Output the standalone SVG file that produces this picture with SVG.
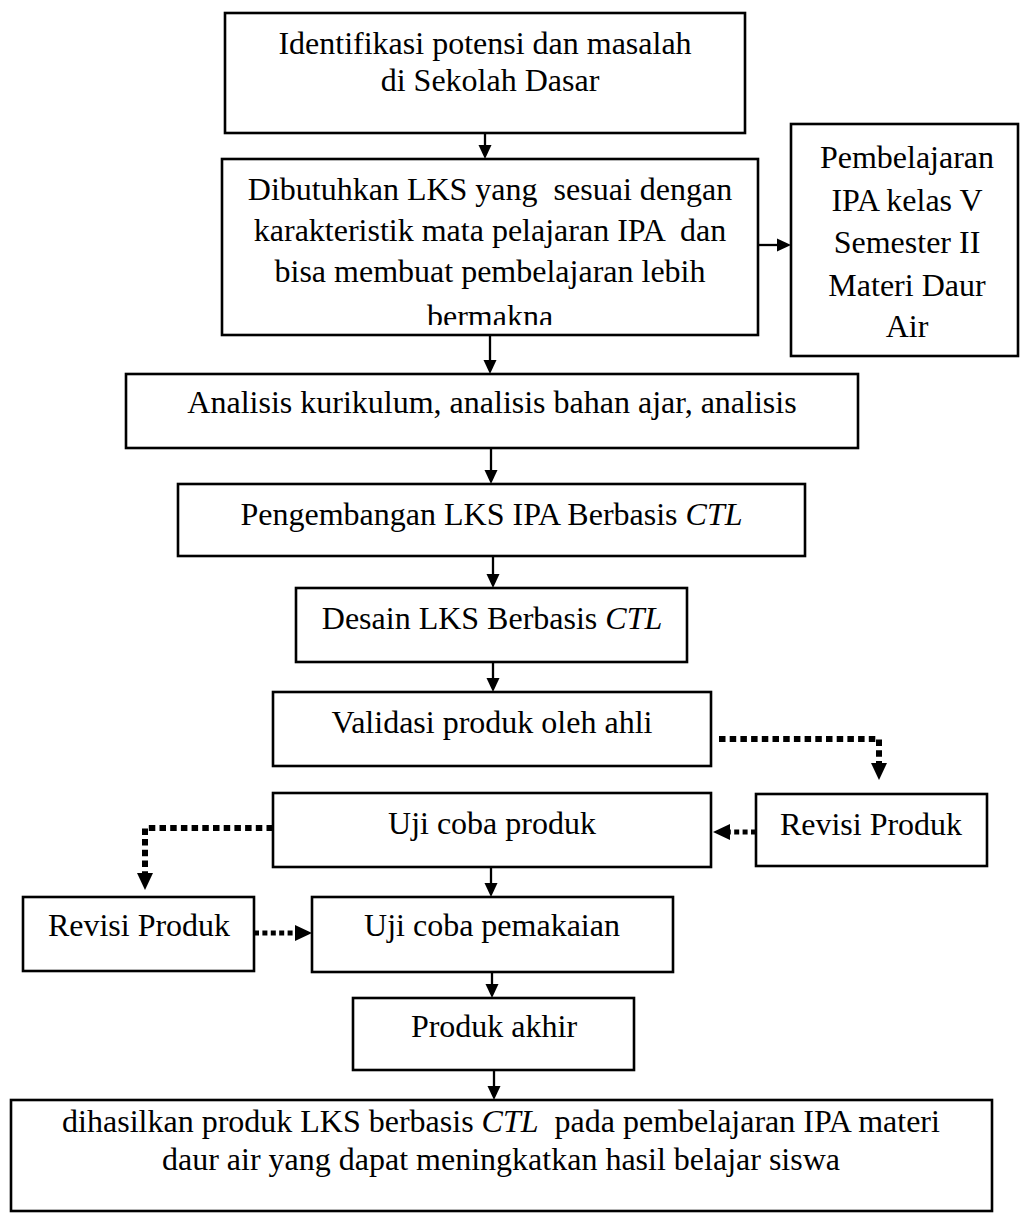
<svg xmlns="http://www.w3.org/2000/svg" width="1020" height="1214" viewBox="0 0 1020 1214">
  <style>
    .box { fill: #ffffff; stroke: #000000; stroke-width: 2.6; }
    .lbl { font-family: "Liberation Serif", "Times New Roman", serif; font-size: 32px; fill: #000000; text-anchor: middle; }
    .it { font-style: italic; }
    .flow { fill: none; stroke: #000000; stroke-width: 2.3; }
    .dot { fill: none; stroke: #000000; stroke-width: 6; stroke-dasharray: 6.5 4.2; }
    .dot-s { fill: none; stroke: #000000; stroke-width: 5; stroke-dasharray: 5 3.4; }
  </style>
  <defs>
    <marker id="head" markerUnits="userSpaceOnUse" markerWidth="14" markerHeight="14" refX="0" refY="6.5" orient="auto" overflow="visible">
      <path d="M0,0 L14,6.5 L0,13 Z" fill="#000000"/>
    </marker>
    <marker id="head-l" markerUnits="userSpaceOnUse" markerWidth="17" markerHeight="16" refX="0" refY="8" orient="auto" overflow="visible">
      <path d="M0,0 L17,8 L0,16 Z" fill="#000000"/>
    </marker>
    <clipPath id="clip-n2">
      <rect x="222" y="159" width="536" height="166"/>
    </clipPath>
  </defs>
  <rect width="1020" height="1214" fill="#ffffff"/>

  <!-- connectors -->
  <g id="connectors">
    <path class="flow" d="M485,133 V145" marker-end="url(#head)"/>
    <path class="flow" d="M490,335 V360" marker-end="url(#head)"/>
    <path class="flow" d="M758,245 H777" marker-end="url(#head)"/>
    <path class="flow" d="M491,448 V470" marker-end="url(#head)"/>
    <path class="flow" d="M493,556 V574" marker-end="url(#head)"/>
    <path class="flow" d="M493,662 V678" marker-end="url(#head)"/>
    <path class="flow" d="M491,867 V883" marker-end="url(#head)"/>
    <path class="flow" d="M492,972 V984" marker-end="url(#head)"/>
    <path class="flow" d="M494,1070 V1086" marker-end="url(#head)"/>
    <path class="dot" d="M719,739 H879 V763" marker-end="url(#head-l)"/>
    <path class="dot-s" d="M756,832 H730" marker-end="url(#head-l)"/>
    <path class="dot" d="M273,828 H145 V873" marker-end="url(#head-l)"/>
    <path class="dot-s" d="M254,933 H295" marker-end="url(#head-l)"/>
  </g>

  <g id="n-identifikasi">
    <rect class="box" x="225" y="13" width="520" height="120"/>
    <text class="lbl" x="485" y="54">Identifikasi potensi dan masalah</text>
    <text class="lbl" x="490" y="91">di Sekolah Dasar</text>
  </g>

  <g id="n-kebutuhan">
    <rect class="box" x="222" y="159" width="536" height="176"/>
    <g clip-path="url(#clip-n2)">
      <text class="lbl" x="490" y="200" xml:space="preserve">Dibutuhkan LKS yang  sesuai dengan</text>
      <text class="lbl" x="490" y="241" xml:space="preserve">karakteristik mata pelajaran IPA  dan</text>
      <text class="lbl" x="490" y="282">bisa membuat pembelajaran lebih</text>
      <text class="lbl" x="490" y="327">bermakna</text>
    </g>
  </g>

  <g id="n-materi">
    <rect class="box" x="791" y="124" width="227" height="232"/>
    <text class="lbl" x="907" y="168">Pembelajaran</text>
    <text class="lbl" x="907" y="211">IPA kelas V</text>
    <text class="lbl" x="907" y="253">Semester II</text>
    <text class="lbl" x="907" y="296">Materi Daur</text>
    <text class="lbl" x="907" y="337">Air</text>
  </g>

  <g id="n-analisis">
    <rect class="box" x="126" y="374" width="732" height="74"/>
    <text class="lbl" x="492" y="413">Analisis kurikulum, analisis bahan ajar, analisis</text>
  </g>

  <g id="n-pengembangan">
    <rect class="box" x="178" y="484" width="627" height="72"/>
    <text class="lbl" x="491.5" y="525">Pengembangan LKS IPA Berbasis <tspan class="it">CTL</tspan></text>
  </g>

  <g id="n-desain">
    <rect class="box" x="296" y="588" width="391" height="74"/>
    <text class="lbl" x="492" y="629">Desain LKS Berbasis <tspan class="it">CTL</tspan></text>
  </g>

  <g id="n-validasi">
    <rect class="box" x="273" y="692" width="438" height="74"/>
    <text class="lbl" x="492" y="733">Validasi produk oleh ahli</text>
  </g>

  <g id="n-ujicoba">
    <rect class="box" x="273" y="793" width="438" height="74"/>
    <text class="lbl" x="492" y="834">Uji coba produk</text>
  </g>

  <g id="n-revisi-1">
    <rect class="box" x="756" y="794" width="231" height="72"/>
    <text class="lbl" x="871" y="835">Revisi Produk</text>
  </g>

  <g id="n-revisi-2">
    <rect class="box" x="23" y="897" width="231" height="74"/>
    <text class="lbl" x="139" y="936">Revisi Produk</text>
  </g>

  <g id="n-pemakaian">
    <rect class="box" x="312" y="897" width="361" height="75"/>
    <text class="lbl" x="492" y="936">Uji coba pemakaian</text>
  </g>

  <g id="n-akhir">
    <rect class="box" x="353" y="998" width="281" height="72"/>
    <text class="lbl" x="494" y="1037">Produk akhir</text>
  </g>

  <g id="n-hasil">
    <rect class="box" x="11" y="1100" width="981" height="111"/>
    <text class="lbl" x="501" y="1132" xml:space="preserve">dihasilkan produk LKS berbasis <tspan class="it">CTL</tspan>  pada pembelajaran IPA materi</text>
    <text class="lbl" x="501" y="1170">daur air yang dapat meningkatkan hasil belajar siswa</text>
  </g>
</svg>
